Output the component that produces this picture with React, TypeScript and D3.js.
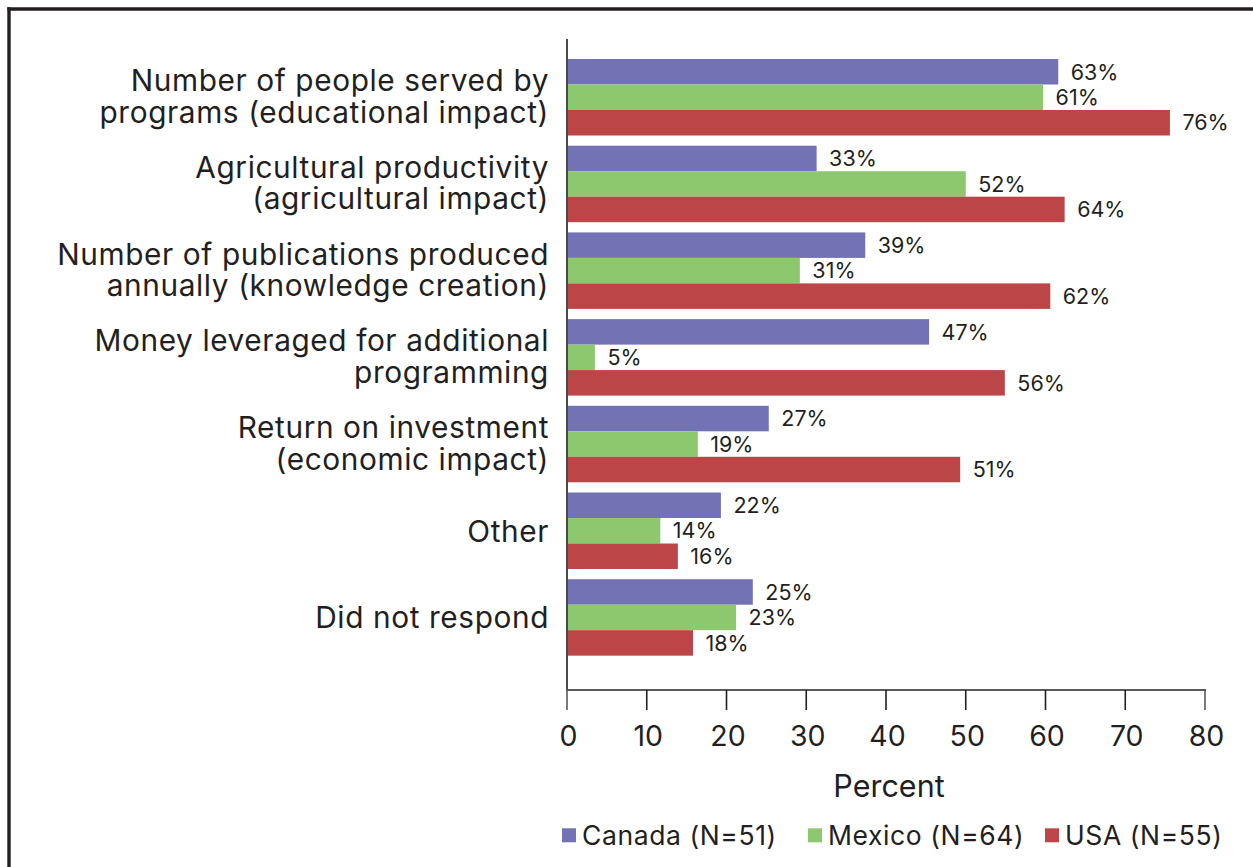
import React from "react";
import * as d3 from "d3";

const categories: string[][] = [
  ["Number of people served by", "programs (educational impact)"],
  ["Agricultural productivity", "(agricultural impact)"],
  ["Number of publications produced", "annually (knowledge creation)"],
  ["Money leveraged for additional", "programming"],
  ["Return on investment", "(economic impact)"],
  ["Other"],
  ["Did not respond"],
];

const seriesNames = ["Canada (N=51)", "Mexico (N=64)", "USA (N=55)"];
const seriesColors = ["#7372B5", "#8DC86F", "#BC4547"];

// bar lengths as drawn in the picture
const canadaValues = [61.6, 31.3, 37.4, 45.4, 25.3, 19.3, 23.3];
const mexicoValues = [59.7, 50.0, 29.2, 3.5, 16.4, 11.7, 21.2];
const usaValues = [75.6, 62.4, 60.6, 54.9, 49.3, 13.9, 15.8];

// printed labels
const canadaLabels = ["63%", "33%", "39%", "47%", "27%", "22%", "25%"];
const mexicoLabels = ["61%", "52%", "31%", "5%", "19%", "14%", "23%"];
const usaLabels = ["76%", "64%", "62%", "56%", "51%", "16%", "18%"];

const xTicks = [0, 10, 20, 30, 40, 50, 60, 70, 80];
const xTitle = "Percent";

const W = 1253;
const H = 867;
const TEXT = "#231F20";
const FONT = "Inter, Roboto, 'Noto Sans', Arial, sans-serif";

export default function App() {
  const values = [canadaValues, mexicoValues, usaValues];
  const labels = [canadaLabels, mexicoLabels, usaLabels];
  const idx = categories.map((_, i) => String(i));

  const x = d3.scaleLinear().domain([0, 80]).range([567, 1205]);
  const y = d3
    .scaleBand<string>()
    .domain(idx)
    .range([53.9, 660.8])
    .paddingInner(0.118)
    .paddingOuter(0.059);
  const sub = d3
    .scaleBand<number>()
    .domain([0, 1, 2])
    .range([0, y.bandwidth()]);

  const axisY = 690;
  const legendX = [562, 808, 1045];
  const lineH = 31.5;

  return (
    <svg
      width={W}
      height={H}
      style={{ position: "absolute", left: 0, top: 0, display: "block", background: "#fff" }}
      fontFamily={FONT}
    >
      <rect x={0} y={0} width={W} height={H} fill="#fff" />
      {/* frame */}
      <line x1={7.3} y1={9} x2={W} y2={9} stroke={TEXT} strokeWidth={3.4} />
      <line x1={9} y1={7.3} x2={9} y2={H} stroke={TEXT} strokeWidth={3.4} />

      {/* bars */}
      {idx.map((c, ci) => {
        const n = categories[ci].length;
        const center = (y(c) as number) + y.bandwidth() / 2;
        const base = center + 11 - (n - 1) * 17;
        return (
          <g key={c}>
            {values.map((vals, si) => {
              const y0 = (y(c) as number) + (sub(si) as number);
              const bw = sub.bandwidth();
              return (
                <g key={si}>
                  <rect
                    x={x(0)}
                    y={y0}
                    width={x(vals[ci]) - x(0)}
                    height={bw}
                    fill={seriesColors[si]}
                  />
                  <text
                    x={x(vals[ci]) + 12.5}
                    y={y0 + bw / 2}
                    dy="0.36em"
                    fontSize={21.5}
                    fill={TEXT}
                  >
                    {labels[si][ci]}
                  </text>
                </g>
              );
            })}
            {/* category label */}
            <text
              x={549}
              y={base}
              textAnchor="end"
              fontSize={29.8}
              letterSpacing={0.6}
              fill={TEXT}
            >
              {categories[ci].map((line, li) => (
                <tspan key={li} x={549} y={base + li * lineH}>
                  {line}
                </tspan>
              ))}
            </text>
          </g>
        );
      })}

      {/* axes */}
      <line x1={567} y1={39} x2={567} y2={axisY + 1} stroke="#4a4a4a" strokeWidth={2} />
      <line x1={566} y1={axisY} x2={1206} y2={axisY} stroke="#5a5a5a" strokeWidth={2} />
      {xTicks.map((t) => (
        <g key={t}>
          <line
            x1={x(t)}
            y1={axisY}
            x2={x(t)}
            y2={710}
            stroke={t === 0 || t === 80 ? "#5a5a5a" : TEXT}
            strokeWidth={1.6}
          />
          <text x={x(t) + 1.5} y={746} textAnchor="middle" fontSize={28.5} fill={TEXT}>
            {t}
          </text>
        </g>
      ))}
      <text x={889} y={797} textAnchor="middle" fontSize={30.5} fill={TEXT}>
        {xTitle}
      </text>

      {/* legend */}
      {seriesNames.map((name, si) => (
        <g key={name}>
          <rect x={legendX[si]} y={828.3} width={14} height={14} fill={seriesColors[si]} />
          <text x={legendX[si] + 20} y={845} fontSize={26.5} letterSpacing={0.6} fill={TEXT}>
            {name}
          </text>
        </g>
      ))}
    </svg>
  );
}
